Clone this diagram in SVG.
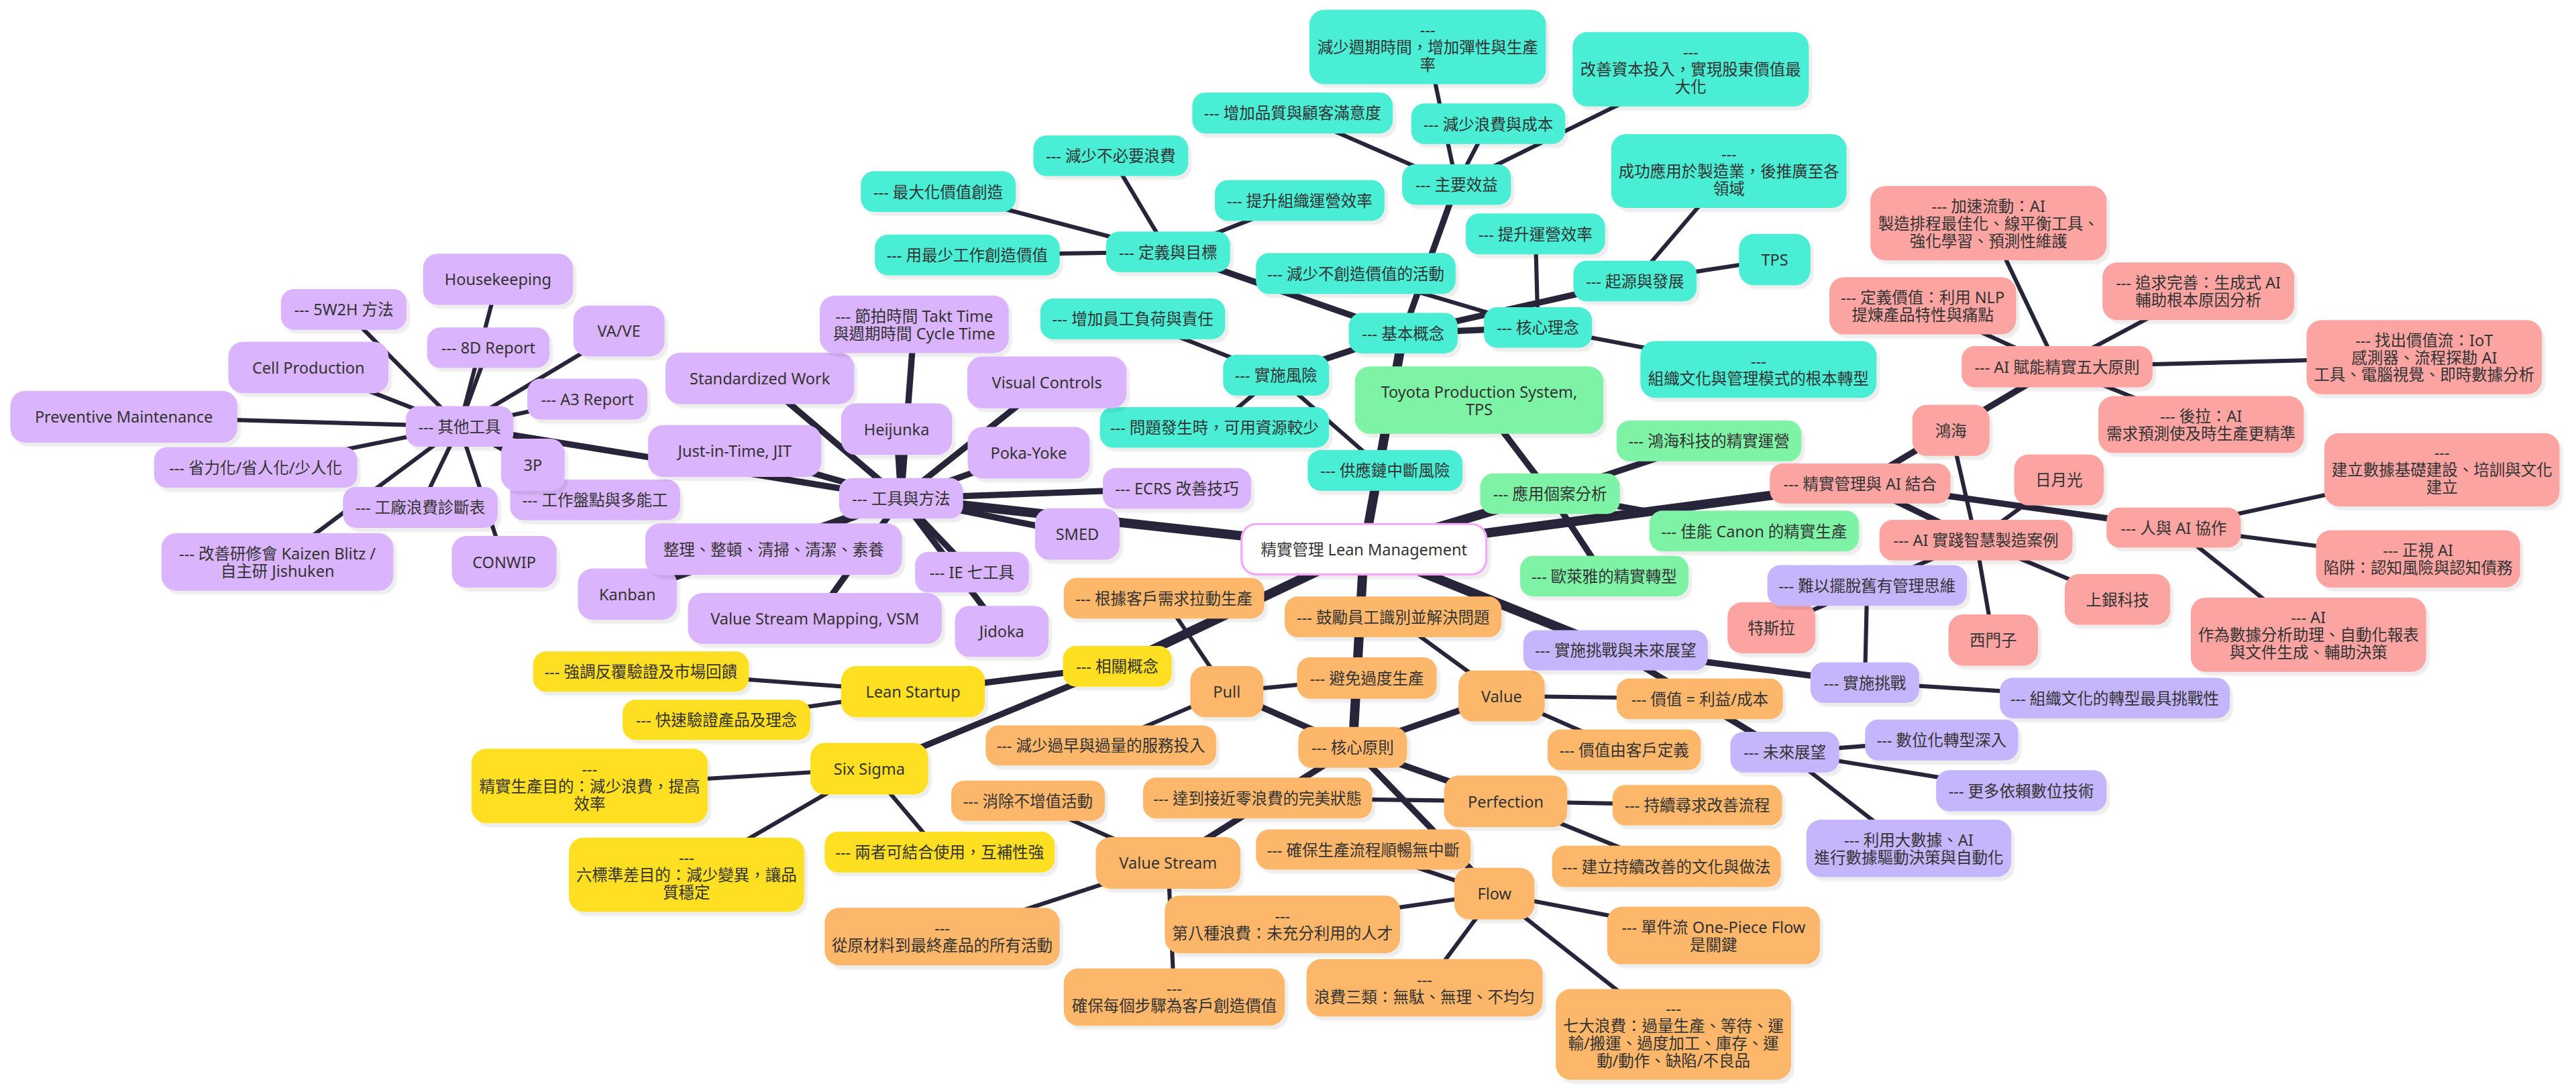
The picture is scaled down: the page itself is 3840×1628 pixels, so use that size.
<svg xmlns="http://www.w3.org/2000/svg" width="3840" height="1628" viewBox="0 0 3840 1628">
<defs>
<filter id="sh" x="-10%" y="-10%" width="130%" height="150%"><feDropShadow dx="2" dy="2.4" stdDeviation="0.5" flood-color="#000" flood-opacity="0.07"/></filter>
<style>
text{font-family:"Noto Sans","Noto Sans CJK TC",sans-serif;font-size:9.6px;fill:#333;text-anchor:middle;dominant-baseline:central}
rect{filter:url(#sh)}
.t{fill:#49eed5}.p{fill:#dab4fc}.o{fill:#fdb76a}.y{fill:#fedf22}.g{fill:#7ef3a6}.r{fill:#fca4a2}.l{fill:#c4b5fd}
.root{fill:#fff;stroke:#f4a6f8;stroke-width:1.3}
line{stroke:#28253b;fill:none}
.e0{stroke-width:5.7}.e1{stroke-width:3.8}.e2{stroke-width:2.5}
</style>
</defs>
<rect x="0" y="0" width="3840" height="1628" fill="#fff" style="filter:none"/>
<g transform="scale(2.449)">
<g id="connectors">
<line class="e0" x1="830.25" y1="334.35" x2="854.13" y2="202.85"/>
<line class="e0" x1="830.25" y1="334.35" x2="548.5" y2="303.35"/>
<line class="e0" x1="830.25" y1="334.35" x2="680.13" y2="405.6"/>
<line class="e0" x1="830.25" y1="334.35" x2="823.38" y2="455"/>
<line class="e0" x1="830.25" y1="334.35" x2="943.5" y2="300.55"/>
<line class="e0" x1="830.25" y1="334.35" x2="1132.25" y2="294.4"/>
<line class="e0" x1="830.25" y1="334.35" x2="983.38" y2="395.85"/>
<line class="e1" x1="854.13" y1="202.85" x2="711" y2="153.35"/>
<line class="e1" x1="854.13" y1="202.85" x2="886.63" y2="112.35"/>
<line class="e1" x1="854.13" y1="202.85" x2="936.13" y2="199.35"/>
<line class="e1" x1="854.13" y1="202.85" x2="995.25" y2="171.05"/>
<line class="e1" x1="854.13" y1="202.85" x2="776.75" y2="228.4"/>
<line class="e2" x1="711" y1="153.35" x2="676.13" y2="94.85"/>
<line class="e2" x1="711" y1="153.35" x2="571.13" y2="116.6"/>
<line class="e2" x1="711" y1="153.35" x2="588.75" y2="155.2"/>
<line class="e2" x1="711" y1="153.35" x2="791.13" y2="122"/>
<line class="e2" x1="886.63" y1="112.35" x2="786.75" y2="68.8"/>
<line class="e2" x1="886.63" y1="112.35" x2="869" y2="28.55"/>
<line class="e2" x1="886.63" y1="112.35" x2="905.88" y2="75.35"/>
<line class="e2" x1="886.63" y1="112.35" x2="1029.13" y2="42.15"/>
<line class="e2" x1="936.13" y1="199.35" x2="825.25" y2="166.5"/>
<line class="e2" x1="936.13" y1="199.35" x2="934.63" y2="142.45"/>
<line class="e2" x1="936.13" y1="199.35" x2="1070.38" y2="224.9"/>
<line class="e2" x1="995.25" y1="171.05" x2="1052.38" y2="104.15"/>
<line class="e2" x1="995.25" y1="171.05" x2="1080.25" y2="158"/>
<line class="e2" x1="776.75" y1="228.4" x2="689.5" y2="194.1"/>
<line class="e2" x1="776.75" y1="228.4" x2="739.25" y2="260.25"/>
<line class="e2" x1="776.75" y1="228.4" x2="843.13" y2="286.4"/>
<line class="e1" x1="548.5" y1="303.35" x2="279.75" y2="259.55"/>
<line class="e1" x1="548.5" y1="303.35" x2="462.5" y2="230.35"/>
<line class="e1" x1="548.5" y1="303.35" x2="556.5" y2="197.5"/>
<line class="e1" x1="548.5" y1="303.35" x2="545.75" y2="261.2"/>
<line class="e1" x1="548.5" y1="303.35" x2="637.25" y2="232.8"/>
<line class="e1" x1="548.5" y1="303.35" x2="447.25" y2="274.55"/>
<line class="e1" x1="548.5" y1="303.35" x2="626.13" y2="275.6"/>
<line class="e1" x1="548.5" y1="303.35" x2="716.38" y2="297.3"/>
<line class="e1" x1="548.5" y1="303.35" x2="655.75" y2="325.1"/>
<line class="e1" x1="548.5" y1="303.35" x2="470.88" y2="334.3"/>
<line class="e1" x1="548.5" y1="303.35" x2="591.63" y2="348.35"/>
<line class="e1" x1="548.5" y1="303.35" x2="381.88" y2="361.7"/>
<line class="e1" x1="548.5" y1="303.35" x2="496" y2="376.5"/>
<line class="e1" x1="548.5" y1="303.35" x2="609.75" y2="384.35"/>
<line class="e2" x1="279.75" y1="259.55" x2="303.15" y2="170"/>
<line class="e2" x1="279.75" y1="259.55" x2="209.25" y2="188.4"/>
<line class="e2" x1="279.75" y1="259.55" x2="297.25" y2="211.7"/>
<line class="e2" x1="279.75" y1="259.55" x2="376.75" y2="201.5"/>
<line class="e2" x1="279.75" y1="259.55" x2="187.75" y2="223.7"/>
<line class="e2" x1="279.75" y1="259.55" x2="357.5" y2="242.95"/>
<line class="e2" x1="279.75" y1="259.55" x2="75.38" y2="253.75"/>
<line class="e2" x1="279.75" y1="259.55" x2="155.63" y2="284.6"/>
<line class="e2" x1="279.75" y1="259.55" x2="324.38" y2="282.9"/>
<line class="e2" x1="279.75" y1="259.55" x2="362.25" y2="304.35"/>
<line class="e2" x1="279.75" y1="259.55" x2="255.88" y2="308.9"/>
<line class="e2" x1="279.75" y1="259.55" x2="168.88" y2="342.05"/>
<line class="e2" x1="279.75" y1="259.55" x2="306.88" y2="342"/>
<line class="e1" x1="680.13" y1="405.6" x2="555.75" y2="421.05"/>
<line class="e1" x1="680.13" y1="405.6" x2="529.13" y2="467.95"/>
<line class="e2" x1="555.75" y1="421.05" x2="390.13" y2="408.85"/>
<line class="e2" x1="555.75" y1="421.05" x2="436.13" y2="438.25"/>
<line class="e2" x1="529.13" y1="467.95" x2="358.88" y2="478.45"/>
<line class="e2" x1="529.13" y1="467.95" x2="417.88" y2="532.5"/>
<line class="e2" x1="529.13" y1="467.95" x2="572" y2="518.7"/>
<line class="e1" x1="823.38" y1="455" x2="746.75" y2="421.05"/>
<line class="e1" x1="823.38" y1="455" x2="914" y2="423.65"/>
<line class="e1" x1="823.38" y1="455" x2="711" y2="525.3"/>
<line class="e1" x1="823.38" y1="455" x2="916.5" y2="487.8"/>
<line class="e1" x1="823.38" y1="455" x2="909.63" y2="544"/>
<line class="e2" x1="746.75" y1="421.05" x2="708.5" y2="364.2"/>
<line class="e2" x1="746.75" y1="421.05" x2="832" y2="412.8"/>
<line class="e2" x1="746.75" y1="421.05" x2="670.13" y2="453.8"/>
<line class="e2" x1="914" y1="423.65" x2="848" y2="375.5"/>
<line class="e2" x1="914" y1="423.65" x2="1034.63" y2="425.4"/>
<line class="e2" x1="914" y1="423.65" x2="988.63" y2="456.5"/>
<line class="e2" x1="711" y1="525.3" x2="625.75" y2="487.45"/>
<line class="e2" x1="711" y1="525.3" x2="573.5" y2="570.15"/>
<line class="e2" x1="711" y1="525.3" x2="714.75" y2="606.95"/>
<line class="e2" x1="916.5" y1="487.8" x2="765.5" y2="485.85"/>
<line class="e2" x1="916.5" y1="487.8" x2="1033.13" y2="490.15"/>
<line class="e2" x1="916.5" y1="487.8" x2="1014.38" y2="527.4"/>
<line class="e2" x1="909.63" y1="544" x2="829.88" y2="517.15"/>
<line class="e2" x1="909.63" y1="544" x2="780.63" y2="562.75"/>
<line class="e2" x1="909.63" y1="544" x2="1043" y2="569.5"/>
<line class="e2" x1="909.63" y1="544" x2="867.13" y2="601.3"/>
<line class="e2" x1="909.63" y1="544" x2="1018.63" y2="629.7"/>
<line class="e1" x1="943.5" y1="300.55" x2="900.38" y2="243.6"/>
<line class="e1" x1="943.5" y1="300.55" x2="1040.25" y2="268.4"/>
<line class="e1" x1="943.5" y1="300.55" x2="1067.75" y2="323.2"/>
<line class="e1" x1="943.5" y1="300.55" x2="976.5" y2="350.75"/>
<line class="e1" x1="1132.25" y1="294.4" x2="1252.13" y2="223.25"/>
<line class="e1" x1="1132.25" y1="294.4" x2="1202.75" y2="328.85"/>
<line class="e1" x1="1132.25" y1="294.4" x2="1323.13" y2="321.2"/>
<line class="e2" x1="1252.13" y1="223.25" x2="1210.38" y2="135.8"/>
<line class="e2" x1="1252.13" y1="223.25" x2="1170.38" y2="186.15"/>
<line class="e2" x1="1252.13" y1="223.25" x2="1338.13" y2="177.35"/>
<line class="e2" x1="1252.13" y1="223.25" x2="1475.63" y2="217.45"/>
<line class="e2" x1="1252.13" y1="223.25" x2="1339.75" y2="258.4"/>
<line class="e2" x1="1202.75" y1="328.85" x2="1187.5" y2="262"/>
<line class="e2" x1="1202.75" y1="328.85" x2="1253.25" y2="292.15"/>
<line class="e2" x1="1202.75" y1="328.85" x2="1288.88" y2="364.9"/>
<line class="e2" x1="1202.75" y1="328.85" x2="1213.25" y2="389.65"/>
<line class="e2" x1="1202.75" y1="328.85" x2="1078.25" y2="382.15"/>
<line class="e2" x1="1323.13" y1="321.2" x2="1486.38" y2="286"/>
<line class="e2" x1="1323.13" y1="321.2" x2="1471.88" y2="340.25"/>
<line class="e2" x1="1323.13" y1="321.2" x2="1405.13" y2="386.4"/>
<line class="e1" x1="983.38" y1="395.85" x2="1135.13" y2="415.55"/>
<line class="e1" x1="983.38" y1="395.85" x2="1086.38" y2="457.9"/>
<line class="e2" x1="1135.13" y1="415.55" x2="1136.5" y2="356.4"/>
<line class="e2" x1="1135.13" y1="415.55" x2="1287.25" y2="424.95"/>
<line class="e2" x1="1086.38" y1="457.9" x2="1181.88" y2="450.45"/>
<line class="e2" x1="1086.38" y1="457.9" x2="1230.38" y2="481.4"/>
<line class="e2" x1="1086.38" y1="457.9" x2="1161.88" y2="516.45"/>
</g>
<g id="nodes">
<g id="n-root"><rect class="root" x="755.75" y="319" width="149" height="30.7" rx="9"/><text x="830.25" y="334.35">精實管理 Lean Management</text></g>

<g id="n-basic"><rect class="t" x="821" y="190.5" width="66.25" height="24.7" rx="8"/><text x="854.13" y="202.85">--- 基本概念</text></g>
<g id="n-def"><rect class="t" x="673.25" y="141" width="75.5" height="24.7" rx="8"/><text x="711" y="153.35">--- 定義與目標</text></g>
<g id="n-def1"><rect class="t" x="629" y="82.5" width="94.25" height="24.7" rx="8"/><text x="676.13" y="94.85">--- 減少不必要浪費</text></g>
<g id="n-def2"><rect class="t" x="524" y="104.2" width="94.25" height="24.8" rx="8"/><text x="571.13" y="116.6">--- 最大化價值創造</text></g>
<g id="n-def3"><rect class="t" x="532.5" y="142.8" width="112.5" height="24.8" rx="8"/><text x="588.75" y="155.2">--- 用最少工作創造價值</text></g>
<g id="n-def4"><rect class="t" x="739.5" y="109.6" width="103.25" height="24.8" rx="8"/><text x="791.13" y="122">--- 提升組織運營效率</text></g>
<g id="n-ben"><rect class="t" x="853.5" y="100" width="66.25" height="24.7" rx="8"/><text x="886.63" y="112.35">--- 主要效益</text></g>
<g id="n-ben1"><rect class="t" x="725.75" y="56.3" width="122" height="25" rx="8"/><text x="786.75" y="68.8">--- 增加品質與顧客滿意度</text></g>
<g id="n-ben2"><rect class="t" x="797" y="5.9" width="144" height="45.3" rx="9"/><text x="869"><tspan x="869" y="17.95">---</tspan><tspan x="869" y="28.55">減少週期時間，增加彈性與生產</tspan><tspan x="869" y="39.15">率</tspan></text></g>
<g id="n-ben3"><rect class="t" x="859" y="63" width="93.75" height="24.7" rx="8"/><text x="905.88" y="75.35">--- 減少浪費與成本</text></g>
<g id="n-ben4"><rect class="t" x="957.25" y="19.5" width="143.75" height="45.3" rx="9"/><text x="1029.13"><tspan x="1029.13" y="31.55">---</tspan><tspan x="1029.13" y="42.15">改善資本投入，實現股東價值最</tspan><tspan x="1029.13" y="52.75">大化</tspan></text></g>
<g id="n-core"><rect class="t" x="903.25" y="187" width="65.75" height="24.7" rx="8"/><text x="936.13" y="199.35">--- 核心理念</text></g>
<g id="n-core1"><rect class="t" x="764.5" y="154" width="121.5" height="25" rx="8"/><text x="825.25" y="166.5">--- 減少不創造價值的活動</text></g>
<g id="n-core2"><rect class="t" x="892.25" y="130" width="84.75" height="24.9" rx="8"/><text x="934.63" y="142.45">--- 提升運營效率</text></g>
<g id="n-core3"><rect class="t" x="998.5" y="207.6" width="143.75" height="34.6" rx="9"/><text x="1070.38"><tspan x="1070.38" y="219.6">---</tspan><tspan x="1070.38" y="230.2">組織文化與管理模式的根本轉型</tspan></text></g>
<g id="n-orig"><rect class="t" x="957.75" y="158.7" width="75" height="24.7" rx="8"/><text x="995.25" y="171.05">--- 起源與發展</text></g>
<g id="n-orig1"><rect class="t" x="980.75" y="81.7" width="143.25" height="44.9" rx="9"/><text x="1052.38"><tspan x="1052.38" y="93.55">---</tspan><tspan x="1052.38" y="104.15">成功應用於製造業，後推廣至各</tspan><tspan x="1052.38" y="114.75">領域</tspan></text></g>
<g id="n-orig2"><rect class="t" x="1058.5" y="142.4" width="43.5" height="31.2" rx="9"/><text x="1080.25" y="158">TPS</text></g>
<g id="n-risk"><rect class="t" x="744.5" y="216" width="64.5" height="24.8" rx="8"/><text x="776.75" y="228.4">--- 實施風險</text></g>
<g id="n-risk1"><rect class="t" x="633.25" y="181.7" width="112.5" height="24.8" rx="8"/><text x="689.5" y="194.1">--- 增加員工負荷與責任</text></g>
<g id="n-risk2"><rect class="t" x="669.5" y="247.9" width="139.5" height="24.7" rx="8"/><text x="739.25" y="260.25">--- 問題發生時，可用資源較少</text></g>
<g id="n-risk3"><rect class="t" x="796" y="274" width="94.25" height="24.8" rx="8"/><text x="843.13" y="286.4">--- 供應鏈中斷風險</text></g>

<g id="n-prin"><rect class="o" x="790.25" y="442.5" width="66.25" height="24.9" rx="8"/><text x="823.38" y="455">--- 核心原則</text></g>
<g id="n-pull"><rect class="o" x="724.5" y="405.5" width="44.5" height="31.1" rx="9"/><text x="746.75" y="421.05">Pull</text></g>
<g id="n-pull1"><rect class="o" x="647.5" y="351.8" width="122" height="24.8" rx="8"/><text x="708.5" y="364.2">--- 根據客戶需求拉動生產</text></g>
<g id="n-pull2"><rect class="o" x="789.5" y="400.2" width="85" height="25.2" rx="8"/><text x="832" y="412.8">--- 避免過度生產</text></g>
<g id="n-pull3"><rect class="o" x="600" y="441.6" width="140.25" height="24.4" rx="8"/><text x="670.13" y="453.8">--- 減少過早與過量的服務投入</text></g>
<g id="n-val"><rect class="o" x="887.75" y="408.1" width="52.5" height="31.1" rx="9"/><text x="914" y="423.65">Value</text></g>
<g id="n-val1"><rect class="o" x="782" y="363.1" width="132" height="24.8" rx="8"/><text x="848" y="375.5">--- 鼓勵員工識別並解決問題</text></g>
<g id="n-val2"><rect class="o" x="984" y="413" width="101.25" height="24.8" rx="8"/><text x="1034.63" y="425.4">--- 價值 = 利益/成本</text></g>
<g id="n-val3"><rect class="o" x="942" y="444.1" width="93.25" height="24.8" rx="8"/><text x="988.63" y="456.5">--- 價值由客戶定義</text></g>
<g id="n-vs"><rect class="o" x="667" y="509.6" width="88" height="31.4" rx="9"/><text x="711" y="525.3">Value Stream</text></g>
<g id="n-vs1"><rect class="o" x="579" y="475.2" width="93.5" height="24.5" rx="8"/><text x="625.75" y="487.45">--- 消除不增值活動</text></g>
<g id="n-vs2"><rect class="o" x="502" y="552.6" width="143" height="35.1" rx="9"/><text x="573.5"><tspan x="573.5" y="564.85">---</tspan><tspan x="573.5" y="575.45">從原材料到最終產品的所有活動</tspan></text></g>
<g id="n-vs3"><rect class="o" x="647.5" y="589.5" width="134.5" height="34.9" rx="9"/><text x="714.75"><tspan x="714.75" y="601.65">---</tspan><tspan x="714.75" y="612.25">確保每個步驟為客戶創造價值</tspan></text></g>
<g id="n-perf"><rect class="o" x="879" y="472.1" width="75" height="31.4" rx="9"/><text x="916.5" y="487.8">Perfection</text></g>
<g id="n-perf1"><rect class="o" x="695.75" y="473.4" width="139.5" height="24.9" rx="8"/><text x="765.5" y="485.85">--- 達到接近零浪費的完美狀態</text></g>
<g id="n-perf2"><rect class="o" x="981.5" y="477.8" width="103.25" height="24.7" rx="8"/><text x="1033.13" y="490.15">--- 持續尋求改善流程</text></g>
<g id="n-perf3"><rect class="o" x="944.75" y="514.8" width="139.25" height="25.2" rx="8"/><text x="1014.38" y="527.4">--- 建立持續改善的文化與做法</text></g>
<g id="n-flow1"><rect class="o" x="764.5" y="504.9" width="130.75" height="24.5" rx="8"/><text x="829.88" y="517.15">--- 確保生產流程順暢無中斷</text></g>
<g id="n-flow"><rect class="o" x="885.25" y="528.3" width="48.75" height="31.4" rx="9"/><text x="909.63" y="544">Flow</text></g>
<g id="n-flow2"><rect class="o" x="709" y="545.2" width="143.25" height="35.1" rx="9"/><text x="780.63"><tspan x="780.63" y="557.45">---</tspan><tspan x="780.63" y="568.05">第八種浪費：未充分利用的人才</tspan></text></g>
<g id="n-flow3"><rect class="o" x="978.25" y="552" width="129.5" height="35" rx="9"/><text x="1043"><tspan x="1043" y="564.2">--- 單件流 One-Piece Flow</tspan><tspan x="1043" y="574.8">是關鍵</tspan></text></g>
<g id="n-flow4"><rect class="o" x="795.25" y="583.8" width="143.75" height="35" rx="9"/><text x="867.13"><tspan x="867.13" y="596">---</tspan><tspan x="867.13" y="606.6">浪費三類：無駄、無理、不均匀</tspan></text></g>
<g id="n-flow5"><rect class="o" x="947" y="602.1" width="143.25" height="55.2" rx="9"/><text x="1018.63"><tspan x="1018.63" y="613.8">---</tspan><tspan x="1018.63" y="624.4">七大浪費：過量生產、等待、運</tspan><tspan x="1018.63" y="635">輸/搬運、過度加工、庫存、運</tspan><tspan x="1018.63" y="645.6">動/動作、缺陷/不良品</tspan></text></g>

<g id="n-tool"><rect class="p" x="510.75" y="291" width="75.5" height="24.7" rx="8"/><text x="548.5" y="303.35">--- 工具與方法</text></g>
<g id="n-other"><rect class="p" x="247" y="247.2" width="65.5" height="24.7" rx="8"/><text x="279.75" y="259.55">--- 其他工具</text></g>
<g id="n-o1"><rect class="p" x="257.5" y="154.4" width="91.3" height="31.2" rx="9"/><text x="303.15" y="170">Housekeeping</text></g>
<g id="n-o2"><rect class="p" x="171" y="176" width="76.5" height="24.8" rx="8"/><text x="209.25" y="188.4">--- 5W2H 方法</text></g>
<g id="n-o3"><rect class="p" x="260" y="199.4" width="74.5" height="24.6" rx="8"/><text x="297.25" y="211.7">--- 8D Report</text></g>
<g id="n-o4"><rect class="p" x="349" y="186" width="55.5" height="31" rx="9"/><text x="376.75" y="201.5">VA/VE</text></g>
<g id="n-o5"><rect class="p" x="139" y="208" width="97.5" height="31.4" rx="9"/><text x="187.75" y="223.7">Cell Production</text></g>
<g id="n-o6"><rect class="p" x="321" y="230.5" width="73" height="24.9" rx="8"/><text x="357.5" y="242.95">--- A3 Report</text></g>
<g id="n-o7"><rect class="p" x="6.25" y="238" width="138.25" height="31.5" rx="9"/><text x="75.38" y="253.75">Preventive Maintenance</text></g>
<g id="n-o8"><rect class="p" x="93.75" y="272.2" width="123.75" height="24.8" rx="8"/><text x="155.63" y="284.6">--- 省力化/省人化/少人化</text></g>
<g id="n-o10"><rect class="p" x="310.5" y="292" width="103.5" height="24.7" rx="8"/><text x="362.25" y="304.35">--- 工作盤點與多能工</text></g>
<g id="n-o9"><rect class="p" x="305" y="267" width="38.75" height="31.8" rx="9"/><text x="324.38" y="282.9">3P</text></g>
<g id="n-o11"><rect class="p" x="208.75" y="296.4" width="94.25" height="25" rx="8"/><text x="255.88" y="308.9">--- 工廠浪費診斷表</text></g>
<g id="n-o12"><rect class="p" x="98.25" y="324.5" width="141.25" height="35.1" rx="9"/><text x="168.88"><tspan x="168.88" y="336.75">--- 改善研修會 Kaizen Blitz /</tspan><tspan x="168.88" y="347.35">自主研 Jishuken</tspan></text></g>
<g id="n-o13"><rect class="p" x="275" y="326.3" width="63.75" height="31.4" rx="9"/><text x="306.88" y="342">CONWIP</text></g>
<g id="n-t1"><rect class="p" x="405" y="214.7" width="115" height="31.3" rx="9"/><text x="462.5" y="230.35">Standardized Work</text></g>
<g id="n-t2"><rect class="p" x="499" y="180" width="115" height="35" rx="9"/><text x="556.5"><tspan x="556.5" y="192.2">--- 節拍時間 Takt Time</tspan><tspan x="556.5" y="202.8">與週期時間 Cycle Time</tspan></text></g>
<g id="n-t3"><rect class="p" x="512" y="245.5" width="67.5" height="31.4" rx="9"/><text x="545.75" y="261.2">Heijunka</text></g>
<g id="n-t4"><rect class="p" x="588.75" y="217" width="97" height="31.6" rx="9"/><text x="637.25" y="232.8">Visual Controls</text></g>
<g id="n-t5"><rect class="p" x="394.5" y="258.8" width="105.5" height="31.5" rx="9"/><text x="447.25" y="274.55">Just-in-Time, JIT</text></g>
<g id="n-t6"><rect class="p" x="589" y="259.9" width="74.25" height="31.4" rx="9"/><text x="626.13" y="275.6">Poka-Yoke</text></g>
<g id="n-t7"><rect class="p" x="671.25" y="284.9" width="90.25" height="24.8" rx="8"/><text x="716.38" y="297.3">--- ECRS 改善技巧</text></g>
<g id="n-t8"><rect class="p" x="630" y="309.4" width="51.5" height="31.4" rx="9"/><text x="655.75" y="325.1">SMED</text></g>
<g id="n-t11"><rect class="p" x="351.75" y="346.1" width="60.25" height="31.2" rx="9"/><text x="381.88" y="361.7">Kanban</text></g>
<g id="n-t9"><rect class="p" x="392.75" y="318.6" width="156.25" height="31.4" rx="9"/><text x="470.88" y="334.3">整理、整頓、清掃、清潔、素養</text></g>
<g id="n-t10"><rect class="p" x="557" y="336" width="69.25" height="24.7" rx="8"/><text x="591.63" y="348.35">--- IE 七工具</text></g>
<g id="n-t12"><rect class="p" x="418.75" y="361" width="154.5" height="31" rx="9"/><text x="496" y="376.5">Value Stream Mapping, VSM</text></g>
<g id="n-t13"><rect class="p" x="581.25" y="368.8" width="57" height="31.1" rx="9"/><text x="609.75" y="384.35">Jidoka</text></g>

<g id="n-rel"><rect class="y" x="647" y="393.2" width="66.25" height="24.8" rx="8"/><text x="680.13" y="405.6">--- 相關概念</text></g>
<g id="n-ls"><rect class="y" x="512" y="405.5" width="87.5" height="31.1" rx="9"/><text x="555.75" y="421.05">Lean Startup</text></g>
<g id="n-ls1"><rect class="y" x="324.5" y="396.6" width="131.25" height="24.5" rx="8"/><text x="390.13" y="408.85">--- 強調反覆驗證及市場回饋</text></g>
<g id="n-ls2"><rect class="y" x="379" y="426" width="114.25" height="24.5" rx="8"/><text x="436.13" y="438.25">--- 快速驗證產品及理念</text></g>
<g id="n-ss"><rect class="y" x="493.25" y="452.2" width="71.75" height="31.5" rx="9"/><text x="529.13" y="467.95">Six Sigma</text></g>
<g id="n-ss1"><rect class="y" x="287" y="455.8" width="143.75" height="45.3" rx="9"/><text x="358.88"><tspan x="358.88" y="467.85">---</tspan><tspan x="358.88" y="478.45">精實生產目的：減少浪費，提高</tspan><tspan x="358.88" y="489.05">效率</tspan></text></g>
<g id="n-ss2"><rect class="y" x="346.25" y="509.9" width="143.25" height="45.2" rx="9"/><text x="417.88"><tspan x="417.88" y="521.9">---</tspan><tspan x="417.88" y="532.5">六標準差目的：減少變異，讓品</tspan><tspan x="417.88" y="543.1">質穩定</tspan></text></g>
<g id="n-ss3"><rect class="y" x="502" y="506.3" width="140" height="24.8" rx="8"/><text x="572" y="518.7">--- 兩者可結合使用，互補性強</text></g>

<g id="n-app"><rect class="g" x="901" y="288.2" width="85" height="24.7" rx="8"/><text x="943.5" y="300.55">--- 應用個案分析</text></g>
<g id="n-app1"><rect class="g" x="824.75" y="223.1" width="151.25" height="41" rx="9"/><text x="900.38"><tspan x="900.38" y="238.3">Toyota Production System,</tspan><tspan x="900.38" y="248.9">TPS</tspan></text></g>
<g id="n-app2"><rect class="g" x="984" y="256" width="112.5" height="24.8" rx="8"/><text x="1040.25" y="268.4">--- 鴻海科技的精實運營</text></g>
<g id="n-app3"><rect class="g" x="1004" y="310.8" width="127.5" height="24.8" rx="8"/><text x="1067.75" y="323.2">--- 佳能 Canon 的精實生產</text></g>
<g id="n-app4"><rect class="g" x="925.25" y="338.4" width="102.5" height="24.7" rx="8"/><text x="976.5" y="350.75">--- 歐萊雅的精實轉型</text></g>

<g id="n-ai"><rect class="r" x="1077.25" y="282.2" width="110" height="24.4" rx="8"/><text x="1132.25" y="294.4">--- 精實管理與 AI 結合</text></g>
<g id="n-ai5"><rect class="r" x="1194" y="210.7" width="116.25" height="25.1" rx="8"/><text x="1252.13" y="223.25">--- AI 賦能精實五大原則</text></g>
<g id="n-ai5a"><rect class="r" x="1138.5" y="113.2" width="143.75" height="45.2" rx="9"/><text x="1210.38"><tspan x="1210.38" y="125.2">--- 加速流動：AI</tspan><tspan x="1210.38" y="135.8">製造排程最佳化、線平衡工具、</tspan><tspan x="1210.38" y="146.4">強化學習、預測性維護</tspan></text></g>
<g id="n-ai5b"><rect class="r" x="1113.5" y="168.7" width="113.75" height="34.9" rx="9"/><text x="1170.38"><tspan x="1170.38" y="180.85">--- 定義價值：利用 NLP</tspan><tspan x="1170.38" y="191.45">提煉產品特性與痛點</tspan></text></g>
<g id="n-ai5c"><rect class="r" x="1279.75" y="159.8" width="116.75" height="35.1" rx="9"/><text x="1338.13"><tspan x="1338.13" y="172.05">--- 追求完善：生成式 AI</tspan><tspan x="1338.13" y="182.65">輔助根本原因分析</tspan></text></g>
<g id="n-ai5d"><rect class="r" x="1404" y="194.9" width="143.25" height="45.1" rx="9"/><text x="1475.63"><tspan x="1475.63" y="206.85">--- 找出價值流：IoT</tspan><tspan x="1475.63" y="217.45">感測器、流程探勘 AI</tspan><tspan x="1475.63" y="228.05">工具、電腦視覺、即時數據分析</tspan></text></g>
<g id="n-ai5e"><rect class="r" x="1277.25" y="241.1" width="125" height="34.6" rx="9"/><text x="1339.75"><tspan x="1339.75" y="253.1">--- 後拉：AI</tspan><tspan x="1339.75" y="263.7">需求預測使及時生產更精準</tspan></text></g>
<g id="n-case"><rect class="r" x="1144" y="316.5" width="117.5" height="24.7" rx="8"/><text x="1202.75" y="328.85">--- AI 實踐智慧製造案例</text></g>
<g id="n-case1"><rect class="r" x="1164" y="246.4" width="47" height="31.2" rx="9"/><text x="1187.5" y="262">鴻海</text></g>
<g id="n-case2"><rect class="r" x="1226" y="276.6" width="54.5" height="31.1" rx="9"/><text x="1253.25" y="292.15">日月光</text></g>
<g id="n-case3"><rect class="r" x="1256.75" y="349.4" width="64.25" height="31" rx="9"/><text x="1288.88" y="364.9">上銀科技</text></g>
<g id="n-case4"><rect class="r" x="1186" y="374" width="54.5" height="31.3" rx="9"/><text x="1213.25" y="389.65">西門子</text></g>
<g id="n-case5"><rect class="r" x="1051.5" y="366.6" width="53.5" height="31.1" rx="9"/><text x="1078.25" y="382.15">特斯拉</text></g>
<g id="n-hum"><rect class="r" x="1282.25" y="309" width="81.75" height="24.4" rx="8"/><text x="1323.13" y="321.2">--- 人與 AI 協作</text></g>
<g id="n-hum1"><rect class="r" x="1414.75" y="263.7" width="143.25" height="44.6" rx="9"/><text x="1486.38"><tspan x="1486.38" y="275.4">---</tspan><tspan x="1486.38" y="286">建立數據基礎建設、培訓與文化</tspan><tspan x="1486.38" y="296.6">建立</tspan></text></g>
<g id="n-hum2"><rect class="r" x="1409.75" y="322.8" width="124.25" height="34.9" rx="9"/><text x="1471.88"><tspan x="1471.88" y="334.95">--- 正視 AI</tspan><tspan x="1471.88" y="345.55">陷阱：認知風險與認知債務</tspan></text></g>
<g id="n-hum3"><rect class="r" x="1333.5" y="363.8" width="143.25" height="45.2" rx="9"/><text x="1405.13"><tspan x="1405.13" y="375.8">--- AI</tspan><tspan x="1405.13" y="386.4">作為數據分析助理、自動化報表</tspan><tspan x="1405.13" y="397">與文件生成、輔助決策</tspan></text></g>

<g id="n-ch"><rect class="l" x="927.25" y="383.6" width="112.25" height="24.5" rx="8"/><text x="983.38" y="395.85">--- 實施挑戰與未來展望</text></g>
<g id="n-ch1"><rect class="l" x="1102" y="403.2" width="66.25" height="24.7" rx="8"/><text x="1135.13" y="415.55">--- 實施挑戰</text></g>
<g id="n-ch1a"><rect class="l" x="1075.75" y="344" width="121.5" height="24.8" rx="8"/><text x="1136.5" y="356.4">--- 難以擺脫舊有管理思維</text></g>
<g id="n-ch1b"><rect class="l" x="1217.25" y="412.6" width="140" height="24.7" rx="8"/><text x="1287.25" y="424.95">--- 組織文化的轉型最具挑戰性</text></g>
<g id="n-fut"><rect class="l" x="1053.25" y="445.5" width="66.25" height="24.8" rx="8"/><text x="1086.38" y="457.9">--- 未來展望</text></g>
<g id="n-fut1"><rect class="l" x="1135.25" y="438" width="93.25" height="24.9" rx="8"/><text x="1181.88" y="450.45">--- 數位化轉型深入</text></g>
<g id="n-fut2"><rect class="l" x="1178.5" y="468.9" width="103.75" height="25" rx="8"/><text x="1230.38" y="481.4">--- 更多依賴數位技術</text></g>
<g id="n-fut3"><rect class="l" x="1099.5" y="499" width="124.75" height="34.9" rx="9"/><text x="1161.88"><tspan x="1161.88" y="511.15">--- 利用大數據、AI</tspan><tspan x="1161.88" y="521.75">進行數據驅動決策與自動化</tspan></text></g>
</g>
</g>
</svg>
